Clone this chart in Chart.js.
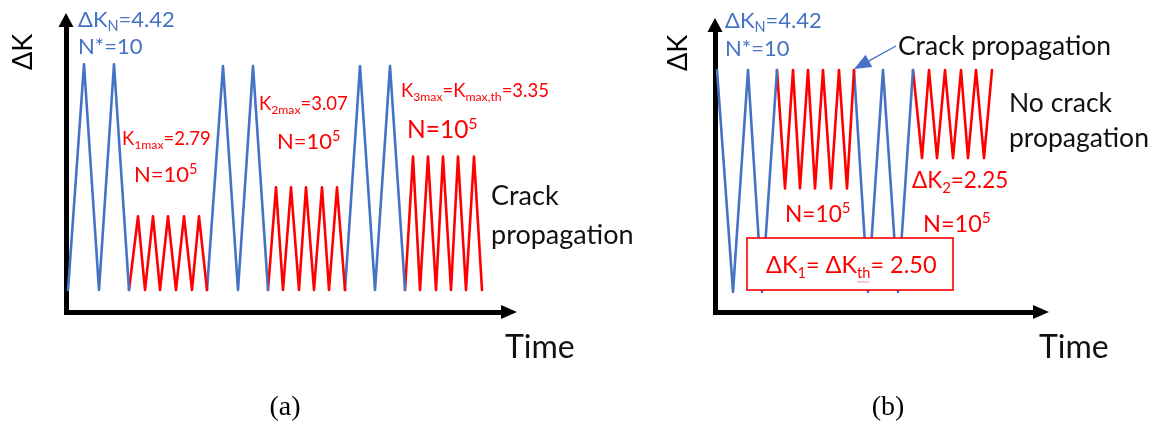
<!DOCTYPE html>
<html><head><meta charset="utf-8">
<script src="https://cdn.jsdelivr.net/npm/chart.js@4.4.1/dist/chart.umd.min.js"></script>
<style>
html,body{margin:0;padding:0;background:#fff;}
#wrap{position:relative;width:1158px;height:426px;overflow:hidden;background:#fff;}
canvas{position:absolute;top:0;left:0;}
</style></head><body>
<div id="wrap"><canvas id="ca" width="1158" height="426"></canvas><canvas id="cb" width="1158" height="426"></canvas></div>
<script>
// ---------- Panel (a) data: time (arbitrary units) and ΔK ----------
const aBlue1T = [0.2, 1.8, 3.3, 4.8, 6.3];
const aBlue1K = [2.0, 4.42, 2.0, 4.42, 2.0];
const aRed1T  = [6.3, 7.2, 7.9, 8.7, 9.4, 10.2, 11.0, 11.8, 12.6, 13.3, 14.1];
const aRed1K  = [2.0, 2.79, 2.0, 2.79, 2.0, 2.79, 2.0, 2.79, 2.0, 2.79, 2.0];
const aBlue2T = [14.1, 15.7, 17.2, 18.7, 20.2];
const aBlue2K = [2.0, 4.40, 2.0, 4.40, 2.0];
const aRed2T  = [20.2, 21.0, 21.7, 22.5, 23.3, 24.0, 24.8, 25.6, 26.3, 27.1, 27.9];
const aRed2K  = [2.0, 3.10, 2.0, 3.10, 2.0, 3.10, 2.0, 3.10, 2.0, 3.10, 2.0];
const aBlue3T = [27.9, 29.4, 30.9, 32.4, 33.9];
const aBlue3K = [2.0, 4.40, 2.0, 4.40, 2.0];
const aRed3T  = [33.9, 34.7, 35.4, 36.2, 37.0, 37.7, 38.5, 39.2, 40.0, 40.8, 41.6];
const aRed3K  = [2.0, 3.43, 2.0, 3.43, 2.0, 3.43, 2.0, 3.43, 2.0, 3.43, 2.0];

// ---------- Panel (b) data ----------
const bBlue1T = [0.2, 1.8, 3.3, 4.7, 6.2];
const bBlue1K = [4.42, 2.0, 4.42, 2.0, 4.42];
const bRed1T  = [6.2, 7.0, 7.8, 8.5, 9.3, 10.0, 10.8, 11.6, 12.4, 13.2, 13.9];
const bRed1K  = [4.42, 3.13, 4.42, 3.13, 4.42, 3.13, 4.42, 3.13, 4.42, 3.13, 4.42];
const bBlue2T = [13.9, 15.3, 16.8, 18.3, 19.8];
const bBlue2K = [4.42, 2.0, 4.42, 2.0, 4.42];
const bRed2T  = [19.8, 20.7, 21.4, 22.2, 23.0, 23.8, 24.6, 25.3, 26.1, 26.9, 27.7];
const bRed2K  = [4.42, 3.46, 4.42, 3.46, 4.42, 3.46, 4.42, 3.46, 4.42, 3.46, 4.42];

const BLUE = '#4472C4', RED = '#FF0000', FONT = 'Lato', INK = '#111';

function pts(T, K) { return T.map((t, i) => ({ x: t, y: K[i] })); }
function ds(T, K, color) {
  return { data: pts(T, K), borderColor: color, borderWidth: 2.6, pointRadius: 0,
           tension: 0, fill: false, borderJoinStyle: 'round', borderCapStyle: 'round' };
}

function rich(ctx, x, y, parts, color, size, subScale) {
  let cx = x;
  const ss = subScale || 0.66;
  ctx.fillStyle = color;
  ctx.textAlign = 'left';
  ctx.textBaseline = 'alphabetic';
  for (const p of parts) {
    const [t, kind, wavy] = p;
    let fs = size, dy = 0;
    if (kind === 'sub') { fs = size * ss; dy = size * 0.2; }
    if (kind === 'sup') { fs = size * ss; dy = -size * 0.38; }
    ctx.font = fs + 'px ' + FONT;
    ctx.fillText(t, cx, y + dy);
    const w = ctx.measureText(t).width;
    if (wavy) {
      ctx.save();
      ctx.strokeStyle = '#e8605a'; ctx.lineWidth = 0.8;
      ctx.beginPath();
      const yy = y + dy + 4;
      for (let i = 0; i <= w; i += 1.5) {
        const yv = yy + ((Math.round(i / 1.5) % 2) ? 1 : -0.5);
        if (i === 0) ctx.moveTo(cx + i, yv); else ctx.lineTo(cx + i, yv);
      }
      ctx.stroke();
      ctx.restore();
    }
    cx += w;
  }
  return cx - x;
}

function makePlugin(id, spec) {
  return {
    id,
    afterDraw(chart) {
      const ctx = chart.ctx, ca = chart.chartArea;
      ctx.save();
      // axis arrowheads
      ctx.fillStyle = '#000';
      ctx.beginPath();
      ctx.moveTo(ca.left, ca.top - 12);
      ctx.lineTo(ca.left - 7.5, ca.top + 2);
      ctx.lineTo(ca.left + 7.5, ca.top + 2);
      ctx.closePath(); ctx.fill();
      ctx.beginPath();
      ctx.moveTo(ca.right + 14, ca.bottom);
      ctx.lineTo(ca.right - 2, ca.bottom - 7);
      ctx.lineTo(ca.right - 2, ca.bottom + 7);
      ctx.closePath(); ctx.fill();

      if (spec.box) {
        const b = spec.box;
        ctx.fillStyle = '#fff';
        ctx.fillRect(b.x, b.y, b.w, b.h);
        ctx.strokeStyle = RED; ctx.lineWidth = 1.6;
        ctx.strokeRect(b.x, b.y, b.w, b.h);
      }
      if (spec.arrow) {
        const a = spec.arrow;
        ctx.strokeStyle = BLUE; ctx.fillStyle = BLUE; ctx.lineWidth = 1.3;
        const ang = Math.atan2(a.y2 - a.y1, a.x2 - a.x1);
        const L = 17, H = 7;
        const bx = a.x2 - L * Math.cos(ang), by = a.y2 - L * Math.sin(ang);
        ctx.beginPath(); ctx.moveTo(a.x1, a.y1); ctx.lineTo(bx, by); ctx.stroke();
        ctx.beginPath();
        ctx.moveTo(a.x2, a.y2);
        ctx.lineTo(bx + H * Math.sin(ang), by - H * Math.cos(ang));
        ctx.lineTo(bx - H * Math.sin(ang), by + H * Math.cos(ang));
        ctx.closePath(); ctx.fill();
      }
      // rotated axis title
      ctx.save();
      ctx.translate(spec.yTitle.x, spec.yTitle.y);
      ctx.rotate(-Math.PI / 2);
      ctx.fillStyle = '#000'; ctx.font = spec.yTitle.size + 'px ' + FONT;
      ctx.textAlign = 'center'; ctx.textBaseline = 'alphabetic';
      ctx.fillText('ΔK', 0, 0);
      ctx.restore();
      for (const t of spec.texts) rich(ctx, t.x, t.y, t.parts, t.color, t.size, t.ss);
      // panel letter
      ctx.fillStyle = '#000'; ctx.font = '28px "Liberation Serif"';
      ctx.textAlign = 'center'; ctx.textBaseline = 'alphabetic';
      ctx.fillText(spec.letter.text, spec.letter.x, spec.letter.y);
      ctx.restore();
    }
  };
}

function axisOpts(min, max) {
  return { type: 'linear', min, max,
           grid: { display: false, drawTicks: false, tickLength: 0 },
           ticks: { display: false, padding: 0 },
           border: { display: true, color: '#000', width: 5 } };
}

const N5 = [['N=10'], ['5', 'sup']];

new Chart(document.getElementById('ca'), {
  type: 'line',
  data: { datasets: [
    ds(aBlue1T, aBlue1K, BLUE), ds(aRed1T, aRed1K, RED),
    ds(aBlue2T, aBlue2K, BLUE), ds(aRed2T, aRed2K, RED),
    ds(aBlue3T, aBlue3K, BLUE), ds(aRed3T, aRed3K, RED)
  ] },
  options: {
    responsive: false, animation: false, devicePixelRatio: 1,
    layout: { autoPadding: false, padding: { left: 66, top: 25, right: 1158 - 503, bottom: 114 } },
    plugins: { legend: { display: false }, tooltip: { enabled: false } },
    scales: { x: axisOpts(0, 43.7), y: axisOpts(1.764, 4.841) }
  },
  plugins: [makePlugin('annotA', {
    yTitle: { x: 32, y: 52, size: 27 },
    letter: { text: '(a)', x: 285, y: 415 },
    texts: [
      { x: 78, y: 27, parts: [['ΔK'], ['N', 'sub'], ['=4.42']], color: BLUE, size: 22 },
      { x: 78, y: 54, parts: [['N*=10']], color: BLUE, size: 22 },
      { x: 122, y: 145, parts: [['K'], ['1max', 'sub'], ['=2.79']], color: RED, size: 18.5 },
      { x: 134, y: 182, parts: N5, color: RED, size: 22 },
      { x: 259, y: 110, parts: [['K'], ['2max', 'sub'], ['=3.07']], color: RED, size: 18.5 },
      { x: 277, y: 149, parts: N5, color: RED, size: 22 },
      { x: 401, y: 97, parts: [['K'], ['3max', 'sub'], ['=K'], ['max,th', 'sub'], ['=3.35']], color: RED, size: 18.5 },
      { x: 407, y: 138, parts: N5, color: RED, size: 24.5 },
      { x: 491, y: 205, parts: [['Crack']], color: INK, size: 27 },
      { x: 491, y: 244, parts: [['propagation']], color: INK, size: 27 },
      { x: 505, y: 358, parts: [['Time']], color: INK, size: 32 }
    ]
  })]
});

new Chart(document.getElementById('cb'), {
  type: 'line',
  data: { datasets: [
    ds(bBlue1T, bBlue1K, BLUE), ds(bRed1T, bRed1K, RED),
    ds(bBlue2T, bBlue2K, BLUE), ds(bRed2T, bRed2K, RED)
  ] },
  options: {
    responsive: false, animation: false, devicePixelRatio: 1,
    layout: { autoPadding: false, padding: { left: 715, top: 30, right: 1158 - 1035, bottom: 114 } },
    plugins: { legend: { display: false }, tooltip: { enabled: false } },
    scales: { x: axisOpts(0, 32.0), y: axisOpts(1.782, 4.856) }
  },
  plugins: [makePlugin('annotB', {
    yTitle: { x: 687, y: 53, size: 27 },
    letter: { text: '(b)', x: 888, y: 415 },
    box: { x: 747, y: 238, w: 206, h: 52 },
    arrow: { x1: 896, y1: 46, x2: 854, y2: 69 },
    texts: [
      { x: 725, y: 28, parts: [['ΔK'], ['N', 'sub'], ['=4.42']], color: BLUE, size: 22 },
      { x: 725, y: 56, parts: [['N*=10']], color: BLUE, size: 22 },
      { x: 898, y: 55, parts: [['Crack propagation']], color: INK, size: 26.5 },
      { x: 1009, y: 112, parts: [['No crack']], color: INK, size: 26.5 },
      { x: 1009, y: 147, parts: [['propagation']], color: INK, size: 26.5 },
      { x: 912, y: 188, parts: [['ΔK'], ['2', 'sub'], ['=2.25']], color: RED, size: 22.5 },
      { x: 923, y: 232, parts: N5, color: RED, size: 23.5 },
      { x: 785, y: 222, parts: N5, color: RED, size: 22.7 },
      { x: 766, y: 273, parts: [['ΔK'], ['1', 'sub'], ['= ΔK'], ['th', 'sub', true], ['= 2.50']], color: RED, size: 23.5, ss: 0.62 },
      { x: 1039, y: 358, parts: [['Time']], color: INK, size: 32 }
    ]
  })]
});
</script></body></html>
